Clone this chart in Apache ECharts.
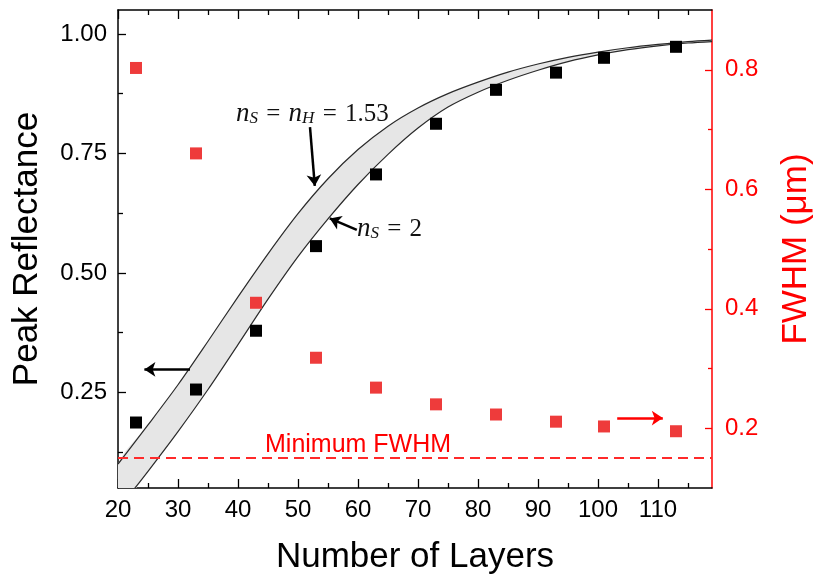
<!DOCTYPE html>
<html>
<head>
<meta charset="utf-8">
<title>Peak Reflectance and FWHM vs Number of Layers</title>
<script src="https://cdn.jsdelivr.net/npm/echarts@6/dist/echarts.min.js"></script>
<style>
  html, body { margin: 0; padding: 0; background: #fff; }
  #chart { width: 817px; height: 583px; }
</style>
</head>
<body>
<div id="chart"></div>
<script>
// measured points
var layers = [23, 33, 43, 53, 63, 73, 83, 93, 101, 113];
var reflectance = [0.187, 0.256, 0.379, 0.556, 0.706, 0.812, 0.883, 0.919, 0.950, 0.973];
var fwhm = [0.803, 0.660, 0.410, 0.318, 0.268, 0.240, 0.223, 0.211, 0.203, 0.195];
var minFwhm = 0.147;

// simulated curves (n_S = n_H = 1.53 upper, n_S = 2 lower)
var curveLayers = [20, 25, 30, 35, 40, 45, 50, 55, 60, 65, 70, 75, 80, 85, 90, 95, 100, 105, 110, 115, 119];
var upperCurve = [0.100, 0.182, 0.266, 0.357, 0.450, 0.540, 0.624, 0.697, 0.758, 0.807, 0.845, 0.875, 0.899, 0.920, 0.937, 0.951, 0.962, 0.971, 0.978, 0.984, 0.987];
var lowerCurve = [0.005, 0.085, 0.168, 0.256, 0.350, 0.445, 0.534, 0.613, 0.685, 0.748, 0.803, 0.847, 0.878, 0.903, 0.924, 0.942, 0.956, 0.967, 0.975, 0.981, 0.984];

// tick labels
var layerTicks = [20, 30, 40, 50, 60, 70, 80, 90, 100, 110];
var layerMinor = [25, 35, 45, 55, 65, 75, 85, 95, 105, 115];
var reflTicks = [0.25, 0.50, 0.75, 1.00];
var reflMinor = [0.125, 0.375, 0.625, 0.875];
var fwhmTicks = [0.2, 0.4, 0.6, 0.8];
var fwhmMinor = [0.3, 0.5, 0.7];

var RED = '#FF0000';
var chart = echarts.init(document.getElementById('chart'));

function pairs(xs, ys) {
    return xs.map(function (x, i) { return [x, ys[i]]; });
}

// axis that only draws ticks
function tickAxis(position, min, max, values, len, color, line) {
    return {
        type: 'value', position: position, min: min, max: max,
        axisLine: {show: !!line, lineStyle: {color: color, width: 1.5}},
        axisTick: {show: true, inside: true, length: len, customValues: values, lineStyle: {color: color, width: 1.3}},
        axisLabel: {show: false},
        splitLine: {show: false}
    };
}

var mainX = {
    type: 'value', position: 'bottom', min: 20, max: 119,
    name: 'Number of Layers', nameLocation: 'middle', nameGap: 52,
    nameTextStyle: {fontFamily: 'Liberation Sans', fontSize: 35, color: '#000'},
    axisLine: {lineStyle: {color: '#000', width: 1.5}},
    axisTick: {inside: true, length: 9, customValues: layerTicks, lineStyle: {color: '#000', width: 1.3}},
    axisLabel: {customValues: layerTicks, margin: 10, fontFamily: 'Liberation Sans', fontSize: 24, color: '#000'},
    splitLine: {show: false}
};

var leftY = {
    type: 'value', position: 'left', min: 0.05, max: 1.05,
    name: 'Peak Reflectance', nameLocation: 'middle', nameRotate: 90, nameGap: 73,
    nameTextStyle: {fontFamily: 'Liberation Sans', fontSize: 35, color: '#000'},
    axisLine: {lineStyle: {color: '#000', width: 1.5}},
    axisTick: {inside: true, length: 8, customValues: reflTicks, lineStyle: {color: '#000', width: 1.3}},
    axisLabel: {customValues: reflTicks, margin: 11, fontFamily: 'Liberation Sans', fontSize: 24, color: '#000',
        formatter: function (v) { return v.toFixed(2); }},
    splitLine: {show: false}
};

var rightY = {
    type: 'value', position: 'right', min: 0.1, max: 0.9,
    name: 'FWHM (μm)', nameLocation: 'middle', nameRotate: 90, nameGap: 67,
    nameTextStyle: {fontFamily: 'Liberation Sans', fontSize: 35, color: RED},
    axisLine: {lineStyle: {color: RED, width: 1.5}},
    axisTick: {inside: true, length: 7, customValues: fwhmTicks, lineStyle: {color: RED, width: 1.3}},
    axisLabel: {customValues: fwhmTicks, margin: 13, fontFamily: 'Liberation Sans', fontSize: 24, color: RED,
        formatter: function (v) { return v.toFixed(1); }},
    splitLine: {show: false}
};

var mathRich = {
    i: {fontFamily: 'Liberation Serif', fontStyle: 'italic', fontSize: 27, lineHeight: 28, verticalAlign: 'bottom', fill: '#111'},
    s: {fontFamily: 'Liberation Serif', fontStyle: 'italic', fontSize: 17, lineHeight: 8, verticalAlign: 'bottom', fill: '#111'},
    e: {fontFamily: 'Liberation Serif', fontSize: 25, lineHeight: 28, verticalAlign: 'bottom', fill: '#111', padding: [0, 2, 0, 2]},
    r: {fontFamily: 'Liberation Serif', fontSize: 25, lineHeight: 28, verticalAlign: 'bottom', fill: '#111'}
};

var option = {
    animation: false,
    backgroundColor: '#fff',
    grid: {left: 118, right: 105, top: 10, bottom: 95, outerBoundsMode: 'none'},
    xAxis: [
        mainX,
        tickAxis('bottom', 20, 119, layerMinor, 5, '#000', false),
        tickAxis('top', 20, 119, layerTicks, 9, '#000', true),
        tickAxis('top', 20, 119, layerMinor, 5, '#000', false)
    ],
    yAxis: [
        leftY,
        rightY,
        tickAxis('left', 0.05, 1.05, reflMinor, 5, '#000', false),
        tickAxis('right', 0.1, 0.9, fwhmMinor, 4, RED, false)
    ],
    graphic: [
        {type: 'text', left: 236, top: 100, z: 10,
            style: {text: '{i|n}{s|S}{e| = }{i|n}{s|H}{e| = }{r|1.53}', rich: mathRich}},
        {type: 'text', left: 357, top: 215, z: 10,
            style: {text: '{i|n}{s|S}{e| = }{r|2}', rich: mathRich}},
        {type: 'text', left: 265, top: 433, z: 10,
            style: {text: 'Minimum FWHM', fontFamily: 'Liberation Sans', fontSize: 25, fill: RED}}
    ],
    series: [
        {
            // grey band between the two simulated curves, with its two edges
            name: 'Simulation', type: 'custom',
            clip: true,
            silent: true,
            z: 1,
            data: [0],
            renderItem: function (params, api) {
                var top = curveLayers.map(function (x, i) { return api.coord([x, upperCurve[i]]); });
                var bottom = curveLayers.map(function (x, i) { return api.coord([x, lowerCurve[i]]); });
                var edge = {stroke: '#2a2a2a', lineWidth: 1.2, fill: null};
                return {
                    type: 'group',
                    children: [
                        {type: 'polygon', shape: {points: top.concat(bottom.slice().reverse()), smooth: 0.3},
                            style: {fill: '#E6E6E6', stroke: null}},
                        {type: 'polyline', shape: {points: top, smooth: 0.3}, style: edge},
                        {type: 'polyline', shape: {points: bottom, smooth: 0.3}, style: edge}
                    ]
                };
            }
        },
        {
            name: 'Peak Reflectance', type: 'scatter', z: 4,
            symbol: 'rect', symbolSize: 12,
            itemStyle: {color: '#000', opacity: 1},
            data: pairs(layers, reflectance),
            markLine: {
                silent: true, symbol: ['none', 'arrow'], symbolSize: 11,
                label: {show: false},
                lineStyle: {color: '#000', width: 2.5, type: 'solid'},
                data: [
                    [{coord: [52, 0.805]}, {coord: [52.8, 0.682]}],
                    [{coord: [59.8, 0.590]}, {coord: [55.3, 0.614]}],
                    [{coord: [32, 0.298]}, {coord: [24.4, 0.298]}]
                ]
            }
        },
        {
            name: 'FWHM', type: 'scatter', yAxisIndex: 1, z: 4,
            symbol: 'rect', symbolSize: 12,
            itemStyle: {color: '#EE3B3B', opacity: 1},
            data: pairs(layers, fwhm),
            markLine: {
                silent: true, symbol: ['none', 'none'],
                label: {show: false},
                data: [
                    {yAxis: minFwhm, lineStyle: {color: '#FF2A2A', width: 2, type: [10, 6]}},
                    [{coord: [103.2, 0.217], symbol: 'none'},
                     {coord: [110.8, 0.217], symbol: 'arrow', symbolSize: 11,
                      lineStyle: {color: RED, width: 2.5, type: 'solid'}}]
                ]
            }
        }
    ]
};

chart.setOption(option);
</script>
</body>
</html>
